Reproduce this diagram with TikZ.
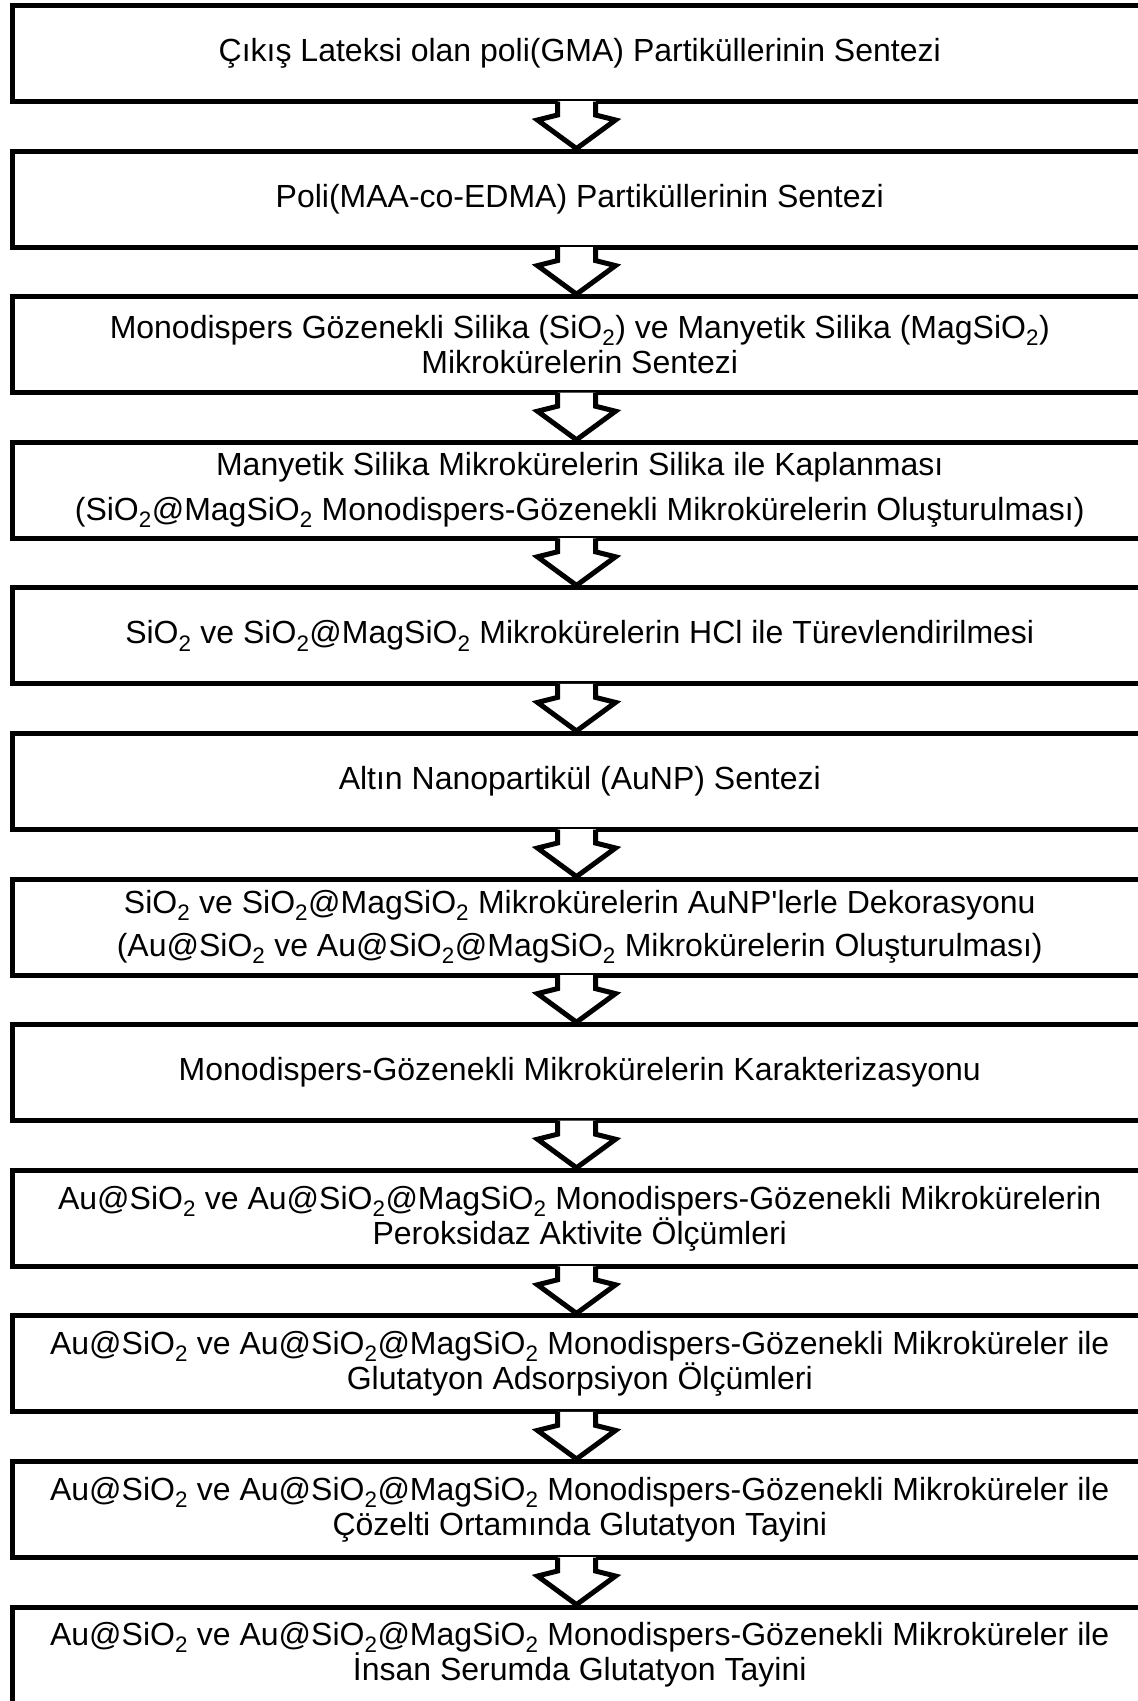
\documentclass[tikz,border=0pt]{standalone}
\usepackage{fontspec}
\newfontfamily\lsans{Liberation Sans}
\usetikzlibrary{calc}
\newcommand{\sioX}{SiO\textsubscript{2}}
\newcommand{\magX}{MagSiO\textsubscript{2}}
\tikzset{
  stepbox/.style={draw=black, line width=5pt, rectangle, minimum width=1135.5pt,
    minimum height=96pt, anchor=north west, align=center, inner sep=0pt,
    font=\lsans\fontsize{32}{35}\selectfont, text=black},
  arrowline/.style={draw=black, line width=5pt, line join=miter, fill=white}
}
\begin{document}
\begin{tikzpicture}[x=1pt,y=1pt]
\useasboundingbox (0,0) rectangle (1138,-1701);
\clip (0,0) rectangle (1138,-1701);
\fill[white] (0,0) rectangle (1138,-1701);
\node[stepbox] (b1) at (9.5,-3) {Çıkış Lateksi olan poli(GMA) Partiküllerinin Sentezi};
\node[stepbox] (b2) at (9.5,-148.6) {Poli(MAA-co-EDMA) Partiküllerinin Sentezi};
\node[stepbox] (b3) at (9.5,-294.2) {Monodispers Gözenekli Silika (\sioX) ve Manyetik Silika (\magX)\\Mikrokürelerin Sentezi};
\node[stepbox] (b4) at (9.5,-439.8) {Manyetik Silika Mikrokürelerin Silika ile Kaplanması\\[10pt](\sioX@\magX\ Monodispers-Gözenekli Mikrokürelerin Oluşturulması)};
\node[stepbox] (b5) at (9.5,-585.4) {\sioX\ ve \sioX@\magX\ Mikrokürelerin HCl ile Türevlendirilmesi};
\node[stepbox] (b6) at (9.5,-731.0) {Altın Nanopartikül (AuNP) Sentezi};
\node[stepbox] (b7) at (9.5,-876.6) {\sioX\ ve \sioX@\magX\ Mikrokürelerin AuNP'lerle Dekorasyonu\\[8pt](Au@\sioX\ ve Au@\sioX@\magX\ Mikrokürelerin Oluşturulması)};
\node[stepbox] (b8) at (9.5,-1022.2) {Monodispers-Gözenekli Mikrokürelerin Karakterizasyonu};
\node[stepbox] (b9) at (9.5,-1167.8) {Au@\sioX\ ve Au@\sioX@\magX\ Monodispers-Gözenekli Mikrokürelerin\\Peroksidaz Aktivite Ölçümleri};
\node[stepbox] (b10) at (9.5,-1313.4) {Au@\sioX\ ve Au@\sioX@\magX\ Monodispers-Gözenekli Mikroküreler ile\\Glutatyon Adsorpsiyon Ölçümleri};
\node[stepbox] (b11) at (9.5,-1459.0) {Au@\sioX\ ve Au@\sioX@\magX\ Monodispers-Gözenekli Mikroküreler ile\\Çözelti Ortamında Glutatyon Tayini};
\node[stepbox] (b12) at (9.5,-1604.6) {Au@\sioX\ ve Au@\sioX@\magX\ Monodispers-Gözenekli Mikroküreler ile\\İnsan Serumda Glutatyon Tayini};
\foreach \a/\b in {b1/b2,b2/b3,b3/b4,b4/b5,b5/b6,b6/b7,b7/b8,b8/b9,b9/b10,b10/b11,b11/b12}{
  \coordinate (s) at (\a.south -| 576.5,0);
  \coordinate (t) at (\b.north -| 576.5,0);
  \fill[white] ($(s)+(-19,2.6)$) rectangle ($(s)+(19,-12)$);
  \path[arrowline, fill=white] ($(s)+(-19,2.5)$) -- ($(s)+(-19,-11)$) -- ($(s)+(-39,-16)$) -- (t) -- ($(s)+(39,-16)$) -- ($(s)+(19,-11)$) -- ($(s)+(19,2.5)$);
}
\end{tikzpicture}
\end{document}
